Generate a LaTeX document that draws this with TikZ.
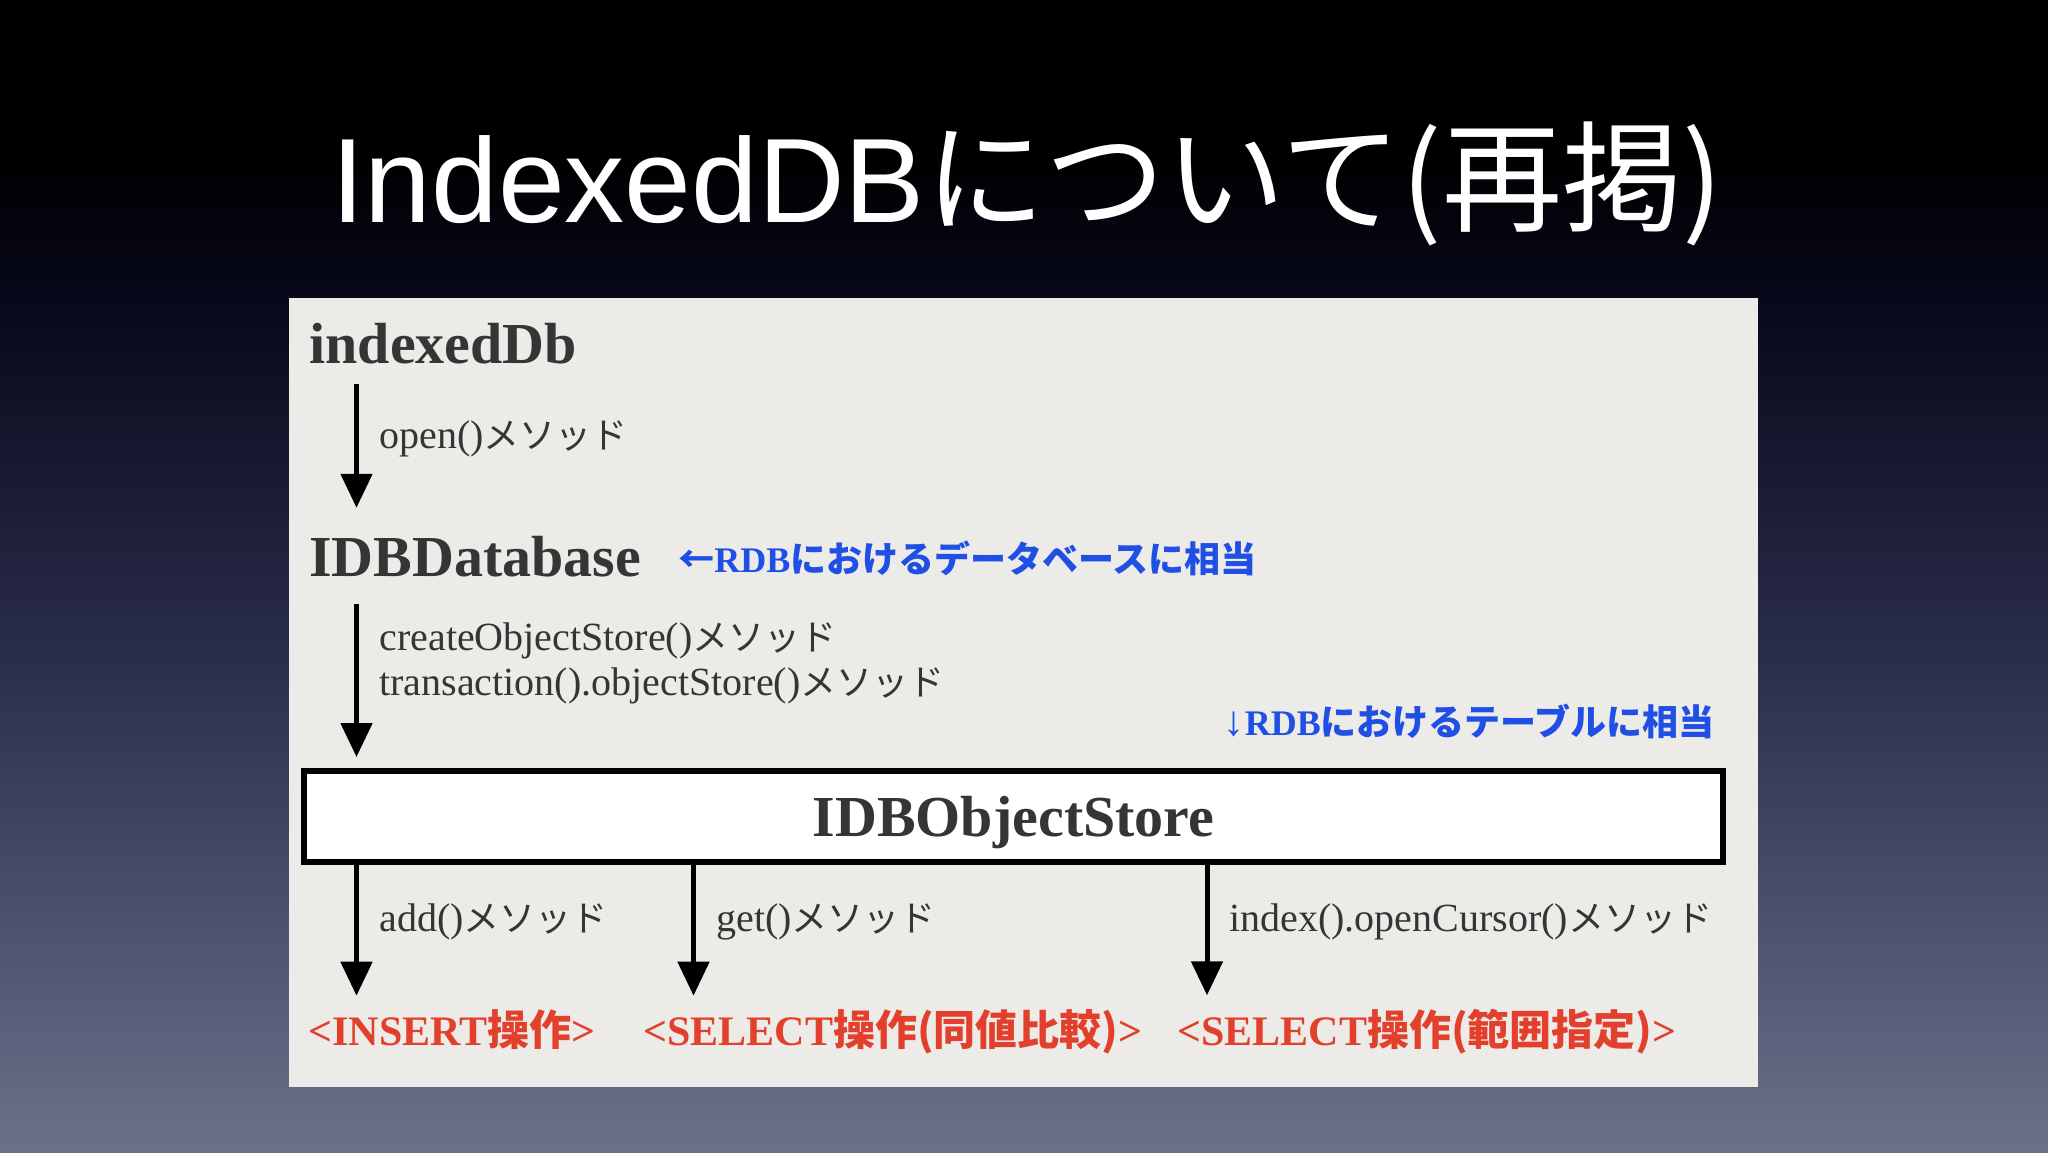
\documentclass[tikz,border=0pt]{standalone}
\usepackage{fontspec}
\setmainfont{Liberation Serif}
\newfontfamily\jp{Noto Sans CJK JP}
\newfontfamily\ttlfont{Liberation Sans}
\usetikzlibrary{arrows.meta}
\newcommand\J[1]{{\jp #1}}
\newcommand\JM[1]{{\jp\fontsize{18}{22}\selectfont #1}}
\definecolor{txt}{HTML}{353535}
\definecolor{rdbblue}{HTML}{1F4FE4}
\definecolor{opred}{HTML}{E2402C}
\definecolor{panel}{HTML}{ECEBE7}
\definecolor{bgA}{HTML}{000000}
\definecolor{bgB}{HTML}{07081A}
\definecolor{bgC}{HTML}{2A2D4A}
\definecolor{bgD}{HTML}{6D7089}
\tikzset{
  lbl/.style={anchor=base west, inner sep=0pt, text=txt, font=\fontsize{20}{24}\selectfont},
  big/.style={anchor=base west, inner sep=0pt, text=txt, font=\fontsize{29}{34}\selectfont\bfseries},
  bluelbl/.style={anchor=base west, inner sep=0pt, text=rdbblue, font=\fontsize{18}{22}\selectfont\bfseries},
  redlbl/.style={anchor=base west, inner sep=0pt, text=opred, font=\fontsize{21}{25}\selectfont\bfseries},
  arr/.style={line width=2.5pt, -{Triangle[width=15.5pt,length=17pt]}},
  storebox/.style={draw=black, line width=3pt, fill=white, minimum width=709.5pt, minimum height=45.5pt, inner sep=0pt, text depth=0pt, text=txt, font=\fontsize{29}{34}\selectfont\bfseries}
}
\begin{document}
\begin{tikzpicture}[x=0.5pt,y=-0.5pt]
\useasboundingbox (0,0) rectangle (2048,1152);
% background
\fill[bgA] (0,0) rectangle (2048,151);
\shade[top color=bgA, bottom color=bgB] (0,150) rectangle (2048,301);
\shade[top color=bgB, bottom color=bgC] (0,300) rectangle (2048,651);
\shade[top color=bgC, bottom color=bgD] (0,650) rectangle (2048,1152);
% panel
\fill[panel] (289,298) rectangle (1758,1087);
% title
\node[anchor=base, inner sep=0pt, text=white, font=\ttlfont\fontsize{60}{70}\selectfont] (title) at (1027,222) {IndexedDB\J{について(再掲)}};
% nodes
\node[big] (idx) at (309,363) {indexedDb};
\node[lbl] (open) at (379,448) {open()\JM{メソッド}};
\node[big] (db) at (309,576) {IDBDatabase};
\node[bluelbl] (rdb1) at (678,572) {\J{←}RDB\J{におけるデータベースに相当}};
\node[lbl] (create) at (379,650) {createObjectStore()\JM{メソッド}};
\node[lbl] (trans) at (379,695) {transaction().objectStore()\JM{メソッド}};
\node[bluelbl, anchor=base east] (rdb2) at (1715,735) {\fontsize{21}{22}\selectfont↓\fontsize{18}{22}\selectfont RDB\J{におけるテーブルに相当}};
\node[storebox] (store) at (1013.5,816.5) {IDBObjectStore};
\node[lbl] (add) at (379,931) {add()\JM{メソッド}};
\node[lbl] (get) at (716,931) {get()\JM{メソッド}};
\node[lbl] (cur) at (1229,931) {index().openCursor()\JM{メソッド}};
\node[redlbl] (ins) at (308,1045) {<INSERT\J{操作}>};
\node[redlbl] (sel1) at (643,1045) {<SELECT\J{操作(同値比較)}>};
\node[redlbl] (sel2) at (1177,1045) {<SELECT\J{操作(範囲指定)}>};
% arrow columns
\coordinate (c1) at (356.5,0);
\coordinate (c2) at (693.5,0);
\coordinate (c3) at (1207,0);
% connectors
\draw[arr, shorten <=10pt, shorten >=13.8pt] (idx.south -| c1) -- (db.north -| c1);
\draw[arr, shorten <=13.5pt, shorten >=5.5pt] (db.south -| c1) -- (store.north -| c1);
\draw[arr, shorten >=6.5pt] (store.south -| c1) -- (ins.north -| c1);
\draw[arr, shorten >=6.5pt] (store.south -| c2) -- (sel1.north -| c2);
\draw[arr, shorten >=6.5pt] (store.south -| c3) -- (sel2.north -| c3);
\end{tikzpicture}
\end{document}
